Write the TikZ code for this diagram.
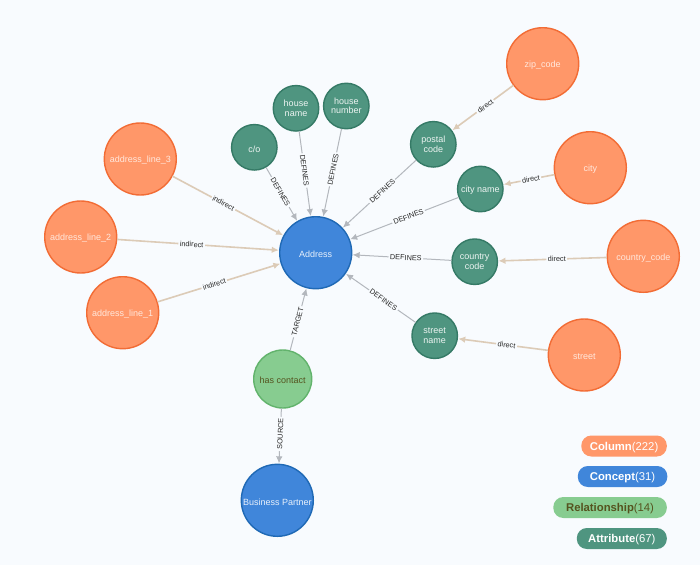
\documentclass[tikz,border=0pt]{standalone}
\usepackage{fontspec}
\setmainfont{Liberation Sans}
\usetikzlibrary{arrows.meta}
\definecolor{bgc}{HTML}{F8FBFE}
\definecolor{orf}{HTML}{FF9769}
\definecolor{ord}{HTML}{F26C35}
\definecolor{orl}{HTML}{FFE8DD}
\definecolor{tef}{HTML}{4F9580}
\definecolor{ted}{HTML}{357A66}
\definecolor{blf}{HTML}{4086DA}
\definecolor{bld}{HTML}{1F69B5}
\definecolor{grf}{HTML}{87CC90}
\definecolor{grd}{HTML}{62B36C}
\definecolor{olv}{HTML}{55531F}
\definecolor{gre}{HTML}{B3B7BD}
\definecolor{tan}{HTML}{DCCBB7}
\tikzset{
  x=1pt,y=-1pt,
  nodebase/.style={circle,inner sep=0pt,outer sep=0pt,line width=1.4pt,align=center,font=\fontsize{9}{9.3}\selectfont,execute at begin node={\rule{0pt}{9.5pt}}},
  colnode/.style={nodebase,minimum size=72pt,fill=orf,draw=ord,text=orl},
  attnode/.style={nodebase,minimum size=45.5pt,fill=tef,draw=ted,text=white!90!tef},
  connode/.style={nodebase,minimum size=72pt,fill=blf,draw=bld,text=white!88!blf},
  relnode/.style={nodebase,minimum size=58pt,fill=grf,draw=grd,text=olv},
  defedge/.style={draw=gre,line width=1pt,-{Latex[length=7pt,width=6.5pt]},shorten >=1pt,shorten <=0.5pt},
  mapedge/.style={draw=tan,line width=1.6pt,-{Latex[length=7pt,width=6.5pt]},shorten >=1pt,shorten <=0.5pt},
  lbl/.style={sloped,pos=0.46,fill=bgc,inner sep=1.5pt,text=black!85,font=\fontsize{7.3}{8}\selectfont},
  pill/.style={rounded corners=10pt,inner sep=0pt,minimum height=21pt,anchor=east,text depth=0pt,font=\fontsize{11.3}{12}\selectfont},
}
\begin{document}
\begin{tikzpicture}
\fill[bgc] (0,0) rectangle (700,565);
\useasboundingbox (0,0) rectangle (700,565);
\node[connode] (address) at (315.7,252.7) {Address};
\node[attnode] (co) at (254.3,147.3) {c/o};
\node[attnode] (hname) at (296,108.3) {house\\name};
\node[attnode] (hnum) at (346.3,106) {house\\number};
\node[attnode] (postal) at (433.3,144.3) {postal\\code};
\node[attnode] (cityn) at (480.3,189) {city name};
\node[attnode] (country) at (474.7,261.7) {country\\code};
\node[attnode] (streetn) at (434.7,335.7) {street\\name};
\node[colnode] (zip) at (542.7,63.7) {zip\_code};
\node[colnode] (city) at (590.3,167.7) {city};
\node[colnode] (countryc) at (643.3,256.3) {country\_code};
\node[colnode] (street) at (584.3,355) {street};
\node[colnode] (al3) at (140.3,159) {address\_line\_3};
\node[colnode] (al2) at (80.7,237) {address\_line\_2};
\node[colnode] (al1) at (122.7,312.7) {address\_line\_1};
\node[relnode] (has) at (282.7,379) {has contact};
\node[connode] (bp) at (277.3,500.3) {Business Partner};
\path[defedge] (co) -- node[lbl]{DEFINES} (address);
\path[defedge] (hname) -- node[lbl]{DEFINES} (address);
\path[defedge] (hnum) -- node[lbl]{DEFINES} (address);
\path[defedge] (postal) -- node[lbl]{DEFINES} (address);
\path[defedge] (cityn) -- node[lbl]{DEFINES} (address);
\path[defedge] (country) -- node[lbl]{DEFINES} (address);
\path[defedge] (streetn) -- node[lbl]{DEFINES} (address);
\path[defedge] (has) -- node[lbl]{TARGET} (address);
\path[defedge] (has) -- node[lbl]{SOURCE} (bp);
\path[mapedge] (zip) -- node[lbl]{direct} (postal);
\path[mapedge] (city) -- node[lbl]{direct} (cityn);
\path[mapedge] (countryc) -- node[lbl]{direct} (country);
\path[mapedge] (street) -- node[lbl]{direct} (streetn);
\path[mapedge] (al3) -- node[lbl]{indirect} (address);
\path[mapedge] (al2) -- node[lbl]{indirect} (address);
\path[mapedge] (al1) -- node[lbl]{indirect} (address);
\node[pill,fill=orf,text=white,minimum width=85.5pt] (lcol) at (667,446) {\textbf{Column}(222)};
\node[pill,fill=blf,text=white,minimum width=89.5pt] (lcon) at (667.5,476.5) {\textbf{Concept}(31)};
\node[pill,fill=grf,text=olv,minimum width=113.5pt] (lrel) at (667,507.5) {\textbf{Relationship}(14)};
\node[pill,fill=tef,text=white,minimum width=90pt] (latt) at (667,538.5) {\textbf{Attribute}(67)};
\end{tikzpicture}
\end{document}
